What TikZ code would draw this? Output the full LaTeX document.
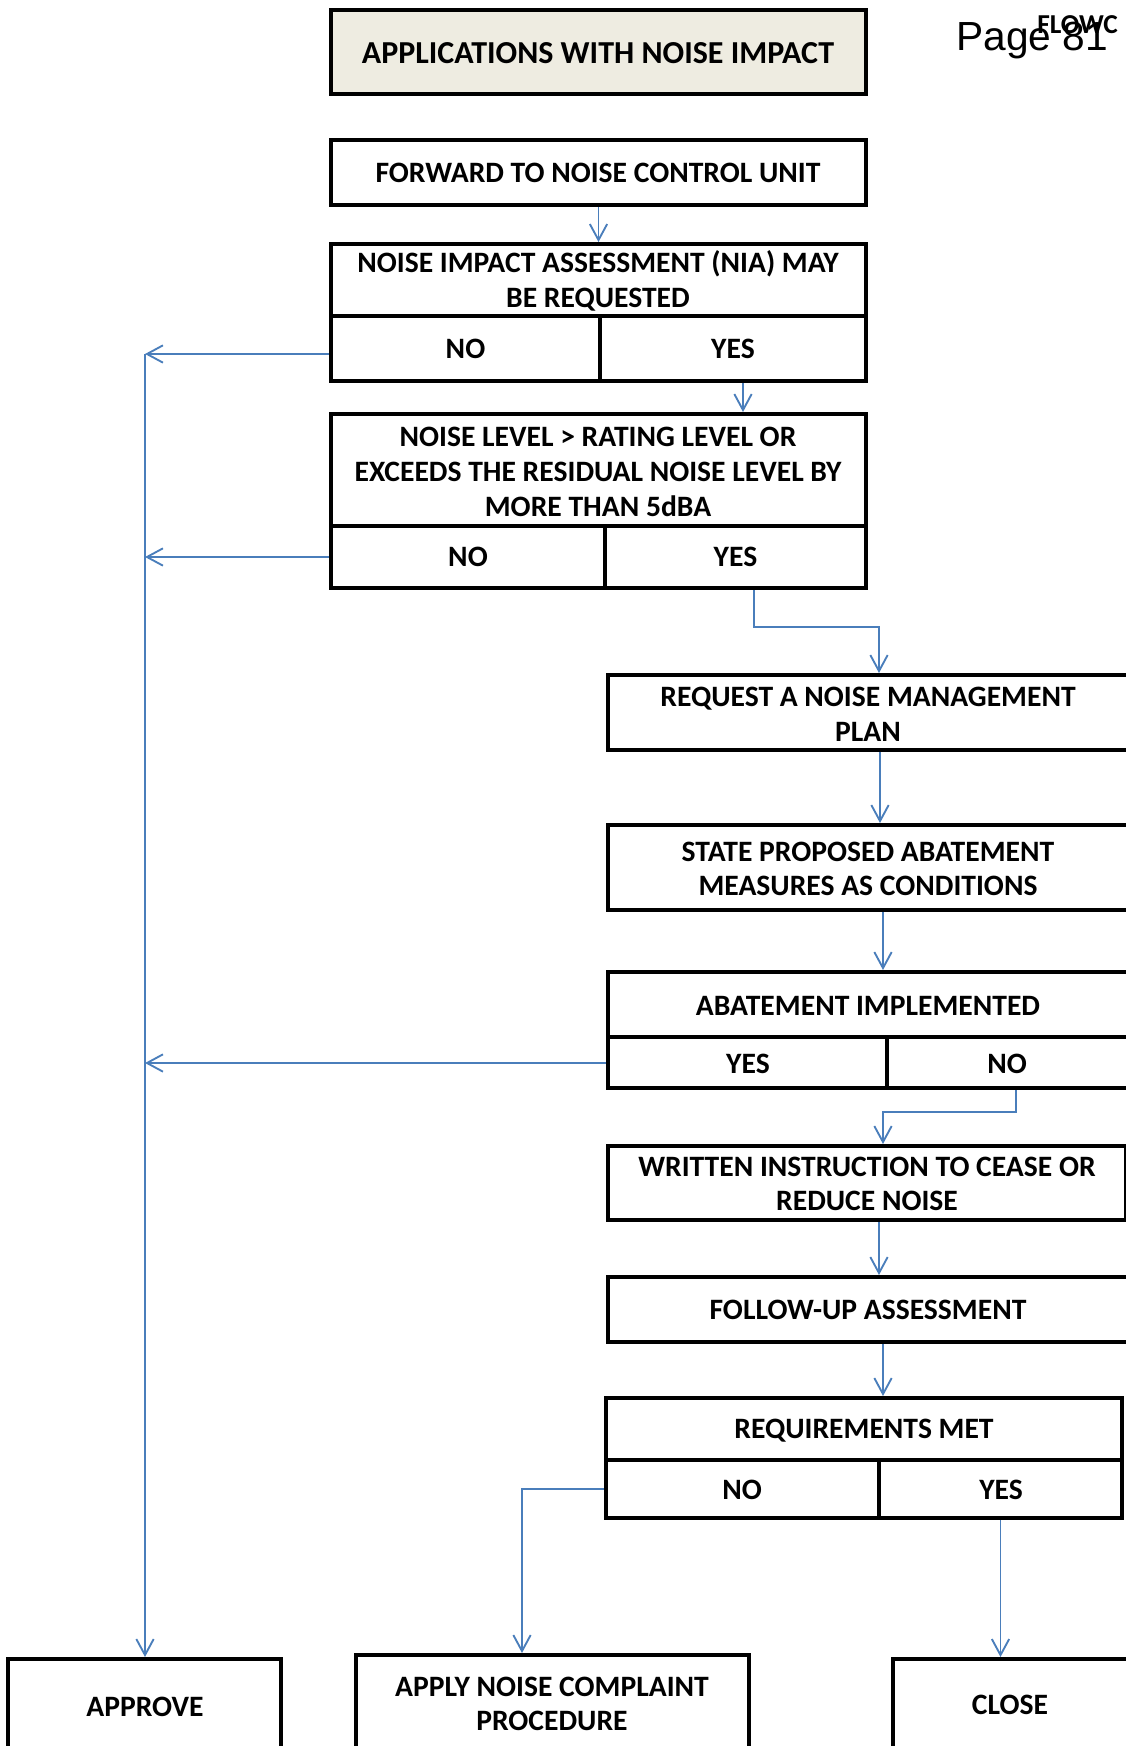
\documentclass[tikz,border=0pt]{standalone}
\usepackage{fontspec}
\setmainfont{Carlito}
\newfontfamily\arialfont{Liberation Sans}
\usetikzlibrary{arrows.meta,fit}
\definecolor{linkblue}{HTML}{4A7EBB}
\definecolor{beige}{HTML}{EEECE1}
\tikzset{
  box/.style={draw=black, line width=3pt, inner sep=0pt},
  txt/.style={inner sep=0pt, align=center,
    font=\fontsize{22.2}{26}\selectfont\bfseries},
  arrowline/.style={draw=linkblue, line width=1.4pt,
    -{Straight Barb[length=12pt,width=13pt,line width=1.4pt]}},
}
\begin{document}
\begin{tikzpicture}[x=0.75pt,y=-0.75pt]
\useasboundingbox (0,0) rectangle (1125,1746);
% boxes
\node[box, fill=beige, fit={(331,10)(866,94)}] (title) {};
\node[box, fit={(331,140)(866,205)}] (forward) {};
\node[box, fit={(331,244)(866,316)}] (nia-top) {};
\node[box, fit={(331,316)(600,381)}] (nia-no) {};
\node[box, fit={(600,316)(866,381)}] (nia-yes) {};
\node[box, fit={(331,414)(866,526)}] (noise-top) {};
\node[box, fit={(331,526)(605,588)}] (noise-no) {};
\node[box, fit={(605,526)(866,588)}] (noise-yes) {};
\node[box, fit={(608,675)(1129,750)}] (request) {};
\node[box, fit={(608,825)(1129,910)}] (state) {};
\node[box, fit={(608,972)(1129,1037)}] (abate-top) {};
\node[box, fit={(608,1037)(887,1088)}] (abate-yes) {};
\node[box, fit={(887,1037)(1129,1088)}] (abate-no) {};
\node[box, fit={(608,1146)(1126,1220)}] (written) {};
\node[box, fit={(608,1277)(1129,1342)}] (follow) {};
\node[box, fit={(606,1398)(1122,1460)}] (req-top) {};
\node[box, fit={(606,1460)(879,1518)}] (req-no) {};
\node[box, fit={(879,1460)(1122,1518)}] (req-yes) {};
\node[box, fit={(8,1659)(281,1752)}] (approve) {};
\node[box, fit={(356,1655)(749,1752)}] (apply) {};
\node[box, fit={(893,1659)(1129,1752)}] (close) {};
% box texts
\node[txt, font=\fontsize{24}{28}\selectfont\bfseries] (title-t) at (598,53) {APPLICATIONS WITH NOISE IMPACT};
\node[txt] (forward-t) at (598,173) {FORWARD TO NOISE CONTROL UNIT};
\node[txt] (nia-top-t) at (598,281) {NOISE IMPACT ASSESSMENT (NIA) MAY\\BE REQUESTED};
\node[txt] (nia-no-t) at (nia-no.center) {NO};
\node[txt] (nia-yes-t) at (nia-yes.center) {YES};
\node[txt] (noise-top-t) at (598,472) {NOISE LEVEL > RATING LEVEL OR\\EXCEEDS THE RESIDUAL NOISE LEVEL BY\\MORE THAN 5dBA};
\node[txt] (noise-no-t) at (noise-no.center) {NO};
\node[txt] (noise-yes-t) at (noise-yes.center) {YES};
\node[txt] (request-t) at (868,714) {REQUEST A NOISE MANAGEMENT\\PLAN};
\node[txt] (state-t) at (868,869) {STATE PROPOSED ABATEMENT\\MEASURES AS CONDITIONS};
\node[txt] (abate-top-t) at (868,1006) {ABATEMENT IMPLEMENTED};
\node[txt] (abate-yes-t) at (748,1064) {YES};
\node[txt] (abate-no-t) at (1007,1064) {NO};
\node[txt] (written-t) at (867,1184) {WRITTEN INSTRUCTION TO CEASE OR\\REDUCE NOISE};
\node[txt] (follow-t) at (868,1310) {FOLLOW-UP ASSESSMENT};
\node[txt] (req-top-t) at (864,1431) {REQUIREMENTS MET};
\node[txt] (req-no-t) at (742,1490) {NO};
\node[txt] (req-yes-t) at (1001,1490) {YES};
\node[txt] (approve-t) at (145,1707) {APPROVE};
\node[txt] (apply-t) at (552,1704) {APPLY NOISE COMPLAINT\\PROCEDURE};
\node[txt] (close-t) at (1010,1705) {CLOSE};
% page header texts
\node[anchor=base west, inner sep=0pt, font=\arialfont\fontsize{30.5}{36}\selectfont] (page) at (956,50) {Page 81};
\node[anchor=base west, inner sep=0pt, font=\fontsize{20.5}{24}\selectfont\bfseries] (flowc) at (1037,33) {FLOWC};
% junctions on the left trunk
\coordinate (j1) at (145,354);
\coordinate (j2) at (145,557);
\coordinate (j3) at (145,1063);
% connectors
\draw[arrowline] (forward) -- (nia-top);
\draw[arrowline] (743,0 |- nia-yes.south) -- (743,0 |- noise-top.north);
\draw[arrowline] (nia-no.west |- j1) -- (j1);
\draw[arrowline] (noise-no.west |- j2) -- (j2);
\draw[arrowline] (abate-yes.west |- j3) -- (j3);
\draw[arrowline] (j1) -- (j1 |- approve.north);
\draw[arrowline] (754,0 |- noise-yes.south) |- (879,627) -- (879,0 |- request.north);
\draw[arrowline] (880,0 |- request.south) -- (880,0 |- state.north);
\draw[arrowline] (883,0 |- state.south) -- (883,0 |- abate-top.north);
\draw[arrowline] (1016,0 |- abate-no.south) |- (883,1112) -- (883,0 |- written.north);
\draw[arrowline] (879,0 |- written.south) -- (879,0 |- follow.north);
\draw[arrowline] (883,0 |- follow.south) -- (883,0 |- req-top.north);
\draw[arrowline] (req-no.west) -| (522,0 |- apply.north);
\draw[arrowline] (req-yes.south) -- (req-yes.south |- close.north);
\end{tikzpicture}
\end{document}
